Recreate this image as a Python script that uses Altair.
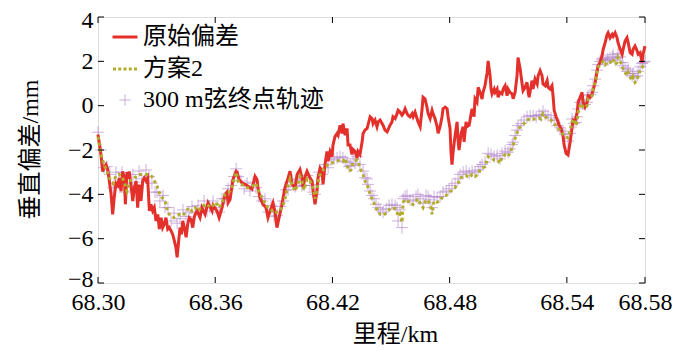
import altair as alt
import pandas as pd

# ---------------- data ----------------
series_names = ["原始偏差", "方案2", "300 m弦终点轨迹"]
x_ticks = [68.30, 68.36, 68.42, 68.48, 68.54, 68.58]
y_ticks = [-8, -6, -4, -2, 0, 2, 4]

# 原始偏差 (red line)
raw_x = [
    68.3000, 68.3015, 68.3024, 68.3032, 68.3041, 68.3050, 68.3058, 68.3067, 68.3075, 68.3083,
    68.3092, 68.3101, 68.3109, 68.3118, 68.3126, 68.3135, 68.3140, 68.3148, 68.3155, 68.3160,
    68.3169, 68.3178, 68.3186, 68.3195, 68.3203, 68.3211, 68.3220, 68.3229, 68.3237, 68.3246,
    68.3254, 68.3263, 68.3271, 68.3280, 68.3288, 68.3297, 68.3306, 68.3314, 68.3323, 68.3331,
    68.3339, 68.3348, 68.3357, 68.3365, 68.3374, 68.3382, 68.3391, 68.3399, 68.3405, 68.3413,
    68.3420, 68.3427, 68.3434, 68.3442, 68.3451, 68.3459, 68.3467, 68.3476, 68.3485, 68.3493,
    68.3507, 68.3522, 68.3532, 68.3548, 68.3563, 68.3584, 68.3589, 68.3609, 68.3620, 68.3635,
    68.3650, 68.3660, 68.3666, 68.3676, 68.3686, 68.3691, 68.3707, 68.3712, 68.3722, 68.3737,
    68.3753, 68.3768, 68.3788, 68.3794, 68.3804, 68.3814, 68.3819, 68.3829, 68.3845, 68.3860,
    68.3870, 68.3881, 68.3896, 68.3906, 68.3916, 68.3927, 68.3942, 68.3957, 68.3973, 68.3983,
    68.3993, 68.4009, 68.4019, 68.4034, 68.4044, 68.4050, 68.4060, 68.4070, 68.4085, 68.4096,
    68.4101, 68.4111, 68.4121, 68.4126, 68.4137, 68.4147, 68.4152, 68.4162, 68.4172, 68.4178,
    68.4188, 68.4198, 68.4203, 68.4213, 68.4224, 68.4229, 68.4239, 68.4249, 68.4254, 68.4265,
    68.4275, 68.4280, 68.4290, 68.4300, 68.4306, 68.4316, 68.4326, 68.4331, 68.4341, 68.4352,
    68.4357, 68.4367, 68.4377, 68.4382, 68.4393, 68.4403, 68.4408, 68.4418, 68.4428, 68.4434,
    68.4444, 68.4459, 68.4469, 68.4480, 68.4495, 68.4505, 68.4510, 68.4521, 68.4531, 68.4536,
    68.4546, 68.4556, 68.4562, 68.4572, 68.4582, 68.4587, 68.4597, 68.4608, 68.4613, 68.4623,
    68.4633, 68.4638, 68.4649, 68.4659, 68.4664, 68.4674, 68.4684, 68.4690, 68.4700, 68.4710,
    68.4715, 68.4725, 68.4736, 68.4741, 68.4751, 68.4761, 68.4766, 68.4777, 68.4787, 68.4792,
    68.4802, 68.4807, 68.4812, 68.4818, 68.4828, 68.4838, 68.4843, 68.4848, 68.4859, 68.4869,
    68.4874, 68.4884, 68.4889, 68.4900, 68.4910, 68.4915, 68.4925, 68.4930, 68.4940, 68.4946,
    68.4956, 68.4966, 68.4971, 68.4981, 68.4992, 68.4997, 68.5007, 68.5012, 68.5017, 68.5028,
    68.5033, 68.5043, 68.5048, 68.5058, 68.5068, 68.5074, 68.5084, 68.5094, 68.5099, 68.5109,
    68.5120, 68.5125, 68.5135, 68.5145, 68.5150, 68.5161, 68.5171, 68.5176, 68.5186, 68.5196,
    68.5202, 68.5207, 68.5217, 68.5222, 68.5227, 68.5237, 68.5248, 68.5253, 68.5263, 68.5273,
    68.5278, 68.5289, 68.5299, 68.5304, 68.5314, 68.5324, 68.5330, 68.5335, 68.5345, 68.5355,
    68.5360, 68.5371, 68.5381, 68.5386, 68.5396, 68.5406, 68.5417, 68.5427, 68.5432, 68.5442,
    68.5453, 68.5458, 68.5468, 68.5478, 68.5483, 68.5493, 68.5504, 68.5509, 68.5519, 68.5529,
    68.5534, 68.5545, 68.5555, 68.5560, 68.5570, 68.5580, 68.5586, 68.5596, 68.5606, 68.5611,
    68.5621, 68.5632, 68.5637, 68.5647, 68.5657, 68.5662, 68.5673, 68.5683, 68.5688, 68.5698,
    68.5708, 68.5714, 68.5724, 68.5734, 68.5739, 68.5749, 68.5760, 68.5765, 68.5775, 68.5785,
    68.5790, 68.5800,
]
raw_y = [
    -1.3, -2.2, -2.97, -2.8, -2.67, -2.9, -3.4, -4.0, -4.9, -4.15,
    -3.5, -3.6, -3.26, -3.86, -2.97, -3.26, -4.45, -3.0, -3.3, -2.97,
    -3.56, -4.3, -3.7, -3.4, -4.6, -3.56, -4.3, -3.4, -3.26, -3.4,
    -3.26, -4.75, -4.45, -4.75, -4.6, -5.2, -4.9, -5.57, -5.05, -5.5,
    -5.35, -5.05, -5.57, -5.5, -5.65, -5.8, -6.1, -6.4, -6.84, -6.1,
    -5.5, -5.8, -5.2, -5.5, -5.94, -5.35, -5.05, -5.13, -5.5, -5.0,
    -4.75, -5.05, -4.6, -4.9, -4.38, -4.75, -4.5, -4.75, -5.05, -4.6,
    -4.0, -3.9, -4.38, -4.23, -3.63, -3.33, -2.96, -3.0, -3.33, -3.48,
    -3.55, -3.63, -3.77, -3.55, -3.19, -3.33, -3.7, -4.15, -4.45, -4.6,
    -5.05, -4.75, -4.38, -4.8, -5.5, -5.05, -4.45, -3.7, -3.26, -2.96,
    -3.55, -3.7, -3.11, -2.88, -3.26, -3.7, -3.2, -2.96, -3.26, -3.41,
    -3.85, -4.45, -3.85, -3.26, -2.81, -2.96, -3.55, -2.66, -2.07, -2.5,
    -2.07, -2.3, -1.77, -1.4, -1.25, -1.33, -0.88, -1.25, -0.81, -1.33,
    -1.03, -1.77, -1.77, -2.2, -1.98, -2.07, -2.37, -2.07, -2.2, -1.63,
    -1.25, -1.1, -1.03, -0.88, -0.5, -0.58, -0.81, -0.65, -0.95, -0.73,
    -0.65, -0.88, -1.1, -1.18, -0.88, -0.73, -0.5, -0.58, -0.36, -0.21,
    -0.29, -0.43, -0.36, -0.14, -0.36, -0.43, -0.5, -0.36, -0.5, -0.29,
    -0.58, -0.73, -0.95, -0.14, 0.38, 0.31, -0.07, -0.36, -0.58, -0.21,
    -0.36, -0.58, -0.95, -1.25, -0.95, -0.5, -0.14, -0.07, -0.14, -0.5,
    -1.03, -2.07, -2.66, -2.07, -1.33, -0.73, -1.55, -2.0, -1.25, -0.95,
    -1.63, -0.73, -0.95, -0.88, -0.36, -0.14, -0.5, 0.31, 0.16, 0.83,
    0.6, 0.3, 0.6, 0.9, 1.5, 2.02, 1.35, 0.75, 0.53, 0.75,
    0.6, 0.75, 0.38, 0.6, 0.53, 0.75, 0.9, 0.45, 0.75, 0.6,
    0.53, 0.31, 0.6, 1.35, 2.17, 1.65, 0.98, 0.68, 0.83, 1.05,
    0.6, 0.38, 0.9, 1.13, 0.75, 1.2, 0.98, 1.35, 1.58, 1.35,
    0.98, 0.9, 1.13, 0.83, 0.75, 0.9, 0.38, -0.21, -0.5, -0.73,
    -0.88, -1.03, -1.4, -1.77, -2.15, -2.22, -1.63, -0.95, -0.65, -0.7,
    -0.29, 0.16, 0.38, 0.6, 0.16, -0.06, 0.16, 0.45, 0.38, 0.53,
    0.68, 1.05, 1.58, 1.8, 1.95, 2.25, 2.54, 2.84, 3.21, 3.29,
    3.06, 3.21, 3.13, 3.29, 3.06, 2.84, 2.54, 2.32, 2.54, 2.91,
    3.06, 2.84, 2.39, 2.32, 2.54, 2.69, 2.47, 2.32, 2.39, 1.95,
    2.32, 2.69,
]

# 方案2 (olive dotted line) and 300 m弦终点轨迹 (purple crosses) share the mileage list
scheme_x = [
    68.3000, 68.3015, 68.3031, 68.3046, 68.3061, 68.3077, 68.3092, 68.3108, 68.3123, 68.3138,
    68.3148, 68.3164, 68.3179, 68.3195, 68.3210, 68.3225, 68.3246, 68.3261, 68.3276, 68.3292,
    68.3302, 68.3317, 68.3333, 68.3343, 68.3358, 68.3374, 68.3389, 68.3405, 68.3420, 68.3435,
    68.3451, 68.3466, 68.3481, 68.3497, 68.3512, 68.3527, 68.3543, 68.3558, 68.3573, 68.3589,
    68.3604, 68.3620, 68.3635, 68.3650, 68.3666, 68.3681, 68.3696, 68.3707, 68.3717, 68.3732,
    68.3748, 68.3763, 68.3778, 68.3794, 68.3809, 68.3824, 68.3840, 68.3855, 68.3870, 68.3886,
    68.3901, 68.3916, 68.3932, 68.3947, 68.3963, 68.3973, 68.3983, 68.3993, 68.4009, 68.4024,
    68.4034, 68.4044, 68.4055, 68.4070, 68.4085, 68.4101, 68.4111, 68.4121, 68.4132, 68.4147,
    68.4162, 68.4178, 68.4193, 68.4208, 68.4224, 68.4239, 68.4254, 68.4265, 68.4275, 68.4285,
    68.4295, 68.4306, 68.4316, 68.4326, 68.4341, 68.4357, 68.4367, 68.4377, 68.4382, 68.4393,
    68.4403, 68.4413, 68.4423, 68.4434, 68.4444, 68.4459, 68.4475, 68.4490, 68.4505, 68.4521,
    68.4531, 68.4536, 68.4546, 68.4556, 68.4562, 68.4572, 68.4582, 68.4597, 68.4613, 68.4628,
    68.4638, 68.4649, 68.4664, 68.4679, 68.4690, 68.4700, 68.4710, 68.4720, 68.4736, 68.4751,
    68.4766, 68.4782, 68.4797, 68.4812, 68.4828, 68.4843, 68.4853, 68.4869, 68.4884, 68.4900,
    68.4915, 68.4930, 68.4946, 68.4956, 68.4966, 68.4981, 68.4997, 68.5012, 68.5028, 68.5043,
    68.5058, 68.5068, 68.5084, 68.5099, 68.5109, 68.5120, 68.5125, 68.5135, 68.5145, 68.5150,
    68.5166, 68.5181, 68.5196, 68.5212, 68.5227, 68.5243, 68.5258, 68.5268, 68.5278, 68.5289,
    68.5304, 68.5319, 68.5335, 68.5350, 68.5365, 68.5381, 68.5391, 68.5406, 68.5417, 68.5427,
    68.5437, 68.5447, 68.5453, 68.5458, 68.5468, 68.5478, 68.5483, 68.5493, 68.5504, 68.5509,
    68.5519, 68.5529, 68.5534, 68.5545, 68.5555, 68.5560, 68.5570, 68.5580, 68.5586, 68.5596,
    68.5606, 68.5611, 68.5621, 68.5632, 68.5637, 68.5647, 68.5657, 68.5662, 68.5673, 68.5683,
    68.5688, 68.5698, 68.5708, 68.5714, 68.5724, 68.5734, 68.5739, 68.5749, 68.5760, 68.5765,
    68.5775, 68.5785, 68.5790, 68.5800,
]
scheme_y = [
    -1.4, -2.2, -2.67, -2.97, -3.3, -3.5, -3.15, -3.1, -3.2, -3.55,
    -3.86, -3.4, -3.3, -3.2, -3.1, -3.1, -3.1, -3.1, -3.2, -3.45,
    -3.63, -4.0, -4.2, -4.3, -4.84, -5.0, -5.05, -4.95, -4.9, -4.95,
    -4.75, -4.6, -4.75, -4.6, -4.75, -4.6, -4.5, -4.6, -4.45, -4.5,
    -4.35, -4.6, -4.4, -4.0, -3.95, -3.8, -3.35, -3.0, -3.4, -3.55,
    -3.6, -3.7, -3.7, -3.6, -3.5, -3.9, -4.16, -4.4, -4.6, -4.7,
    -4.84, -4.8, -4.75, -4.5, -4.0, -3.6, -3.3, -3.55, -3.85, -3.5,
    -3.2, -3.4, -3.8, -3.3, -3.4, -3.7, -4.2, -3.8, -3.2, -2.96,
    -2.8, -2.66, -2.6, -2.55, -2.5, -2.45, -2.5, -2.37, -2.7, -2.95,
    -2.9, -2.55, -2.5, -2.45, -2.81, -3.11, -3.41, -3.5, -3.7, -4.0,
    -4.2, -4.4, -4.6, -4.75, -4.9, -4.95, -4.85, -4.7, -4.6, -4.65,
    -4.8, -5.0, -4.9, -5.27, -4.35, -4.25, -4.25, -4.45, -4.45, -4.3,
    -4.2, -4.4, -4.6, -4.25, -4.3, -4.45, -4.9, -4.3, -4.35, -4.3,
    -4.08, -4.05, -3.95, -3.8, -3.7, -3.5, -3.26, -3.2, -3.15, -3.25,
    -3.1, -3.19, -3.1, -2.9, -2.81, -2.75, -2.3, -2.35, -2.45, -2.45,
    -2.6, -2.3, -2.22, -2.3, -2.1, -1.92, -1.8, -1.48, -1.25, -1.03,
    -0.95, -0.8, -0.65, -0.58, -0.6, -0.6, -0.55, -0.6, -0.36, -0.5,
    -0.58, -0.65, -0.77, -1.0, -1.1, -1.3, -1.4, -1.45, -1.1, -0.73,
    -0.6, -0.9, -0.7, -0.29, 0.0, 0.1, -0.06, -0.1, 0.0, 0.3,
    0.35, 0.45, 0.75, 1.05, 1.5, 1.75, 1.85, 1.95, 2.0, 1.85,
    1.95, 1.9, 1.95, 2.0, 2.1, 1.85, 1.95, 2.17, 2.0, 1.8,
    1.65, 1.5, 1.35, 1.5, 1.28, 1.13, 1.28, 1.05, 1.13, 1.35,
    1.57, 1.72, 1.8, 1.87,
]
chord_y = [
    -1.2, -2.0, -2.8, -2.75, -3.1, -3.7, -3.0, -3.35, -3.0, -3.9,
    -3.5, -3.6, -3.1, -3.45, -2.95, -3.3, -2.9, -3.2, -3.5, -3.9,
    -3.9, -4.3, -4.05, -4.6, -4.6, -5.2, -4.85, -5.3, -5.1, -4.7,
    -5.0, -4.8, -4.55, -4.85, -4.5, -4.8, -4.3, -4.75, -4.6, -4.3,
    -4.6, -4.8, -4.2, -4.2, -3.75, -3.6, -3.2, -2.85, -3.2, -3.4,
    -3.75, -3.5, -3.85, -3.45, -3.7, -4.1, -4.3, -4.2, -4.8, -4.5,
    -5.0, -4.95, -4.55, -4.3, -3.8, -3.8, -3.45, -3.35, -3.65, -3.3,
    -3.4, -3.6, -3.6, -3.15, -3.6, -3.9, -4.0, -3.55, -3.0, -3.1,
    -2.65, -2.8, -2.45, -2.4, -2.35, -2.3, -2.35, -2.5, -2.55, -2.75,
    -2.7, -2.4, -2.6, -2.3, -2.65, -2.95, -3.25, -3.3, -3.55, -3.85,
    -4.05, -4.2, -4.45, -4.6, -4.7, -4.8, -4.65, -4.5, -4.45, -4.5,
    -4.6, -5.2, -4.7, -5.5, -4.2, -4.1, -4.05, -4.25, -4.3, -4.1,
    -4.0, -4.2, -4.4, -4.05, -4.1, -4.25, -4.6, -4.1, -4.15, -4.1,
    -3.9, -3.85, -3.75, -3.6, -3.5, -3.3, -3.1, -3.0, -2.95, -3.05,
    -2.95, -3.0, -2.9, -2.75, -2.65, -2.55, -2.15, -2.2, -2.3, -2.25,
    -2.4, -2.15, -2.05, -2.1, -1.95, -1.75, -1.65, -1.35, -1.1, -0.9,
    -0.8, -0.65, -0.5, -0.45, -0.45, -0.5, -0.4, -0.45, -0.25, -0.4,
    -0.45, -0.55, -0.65, -0.9, -1.0, -1.15, -1.3, -1.6, -1.25, -0.6,
    -0.8, -0.75, -0.5, -0.15, 0.15, 0.25, 0.1, 0.05, 0.15, 0.45,
    0.5, 0.6, 0.9, 1.2, 1.6, 1.85, 2.0, 2.1, 2.15, 2.05,
    2.1, 2.05, 2.15, 2.2, 2.3, 2.05, 2.15, 2.35, 2.2, 1.95,
    1.8, 1.7, 1.55, 1.65, 1.45, 1.35, 1.45, 1.3, 1.35, 1.55,
    1.75, 1.9, 1.95, 2.0,
]

# ---------------- styling ----------------
W, H = 547, 266
FONT = "Liberation Serif, Noto Sans CJK SC"
RED = "#e3302b"
OLIVE = "#b3ab2a"
PURPLE = "rgba(172, 125, 198, 0.6)"

PATH_LINE = "M-1,0L1,0"
PATH_DOTS = "M-0.96,0L-0.72,0M-0.54,0L-0.3,0M-0.12,0L0.12,0M0.3,0L0.54,0M0.72,0L0.96,0"
PATH_PLUS = "M-0.45,0L0.45,0M0,-0.45L0,0.45"

raw_df = pd.DataFrame({"x": raw_x, "y": raw_y})
sch_df = pd.DataFrame({"x": scheme_x, "y": scheme_y})
chord_df = pd.DataFrame({"x": scheme_x, "y": chord_y, "series": series_names[2]})
xt_df = pd.DataFrame({"t": x_ticks})
yt_df = pd.DataFrame({"t": y_ticks})

xs = alt.Scale(domain=[68.30, 68.58], nice=False, zero=False)
ys = alt.Scale(domain=[-8, 4], nice=False, zero=False)

x_axis = alt.Axis(
    values=x_ticks, format=".2f", title="里程/km", domain=False, ticks=False, grid=False,
    labelFont=FONT, labelFontSize=24, labelColor="black", labelPadding=7,
    labelFlush=False, labelOverlap=False,
    titleFont=FONT, titleFontSize=24, titleFontWeight="normal", titleColor="black",
    titleX=297, titleY=51, titleBaseline="middle", titleAlign="center",
)
y_axis = alt.Axis(
    values=y_ticks, format="d", title="垂直偏差/mm", domain=False, ticks=False, grid=False,
    labelFont=FONT, labelFontSize=24, labelColor="black", labelPadding=5,
    labelFlush=False, labelOverlap=False,
    labelOffset={"expr": "datum.value == 4 ? 3 : (datum.value == -8 ? -4 : 0)"},
    titleFont=FONT, titleFontSize=24, titleFontWeight="normal", titleColor="black",
    titleX=-68, titleY=132, titleBaseline="middle", titleAlign="center", titleAngle=270,
)
X = alt.X("x:Q", scale=xs, axis=x_axis)
Y = alt.Y("y:Q", scale=ys, axis=y_axis)

legend = alt.Legend(
    title=None, orient="none", legendX=13, legendY=6, padding=0,
    labelFont=FONT, labelFontSize=24, labelColor="black", labelOffset=4, labelLimit=0,
    symbolSize=625, rowPadding=6, direction="vertical",
)

chord = alt.Chart(chord_df).mark_point(filled=False, size=700, opacity=1).encode(
    x=X, y=Y,
    color=alt.Color("series:N", scale=alt.Scale(domain=series_names, range=[RED, OLIVE, PURPLE]), legend=legend),
    shape=alt.Shape("series:N", scale=alt.Scale(domain=series_names, range=[PATH_LINE, PATH_DOTS, PATH_PLUS]), legend=legend),
    strokeWidth=alt.StrokeWidth("series:N", scale=alt.Scale(type="ordinal", domain=series_names, range=[3, 3, 1]), legend=legend),
)

raw = alt.Chart(raw_df).mark_line(color=RED, strokeWidth=3).encode(x=X, y=Y)
sch = alt.Chart(sch_df).mark_line(color=OLIVE, strokeWidth=3, strokeDash=[3, 3]).encode(x=X, y=Y)

XT = alt.X("t:Q", scale=xs, axis=x_axis)
YT = alt.Y("t:Q", scale=ys, axis=y_axis)
tick_bottom = alt.Chart(xt_df).mark_rule(color="black", strokeWidth=1).encode(
    x=XT, y=alt.value(H), y2=alt.value(H - 6))
tick_top = alt.Chart(xt_df).mark_rule(color="black", strokeWidth=1).encode(
    x=XT, y=alt.value(0), y2=alt.value(6))
tick_left = alt.Chart(yt_df).mark_rule(color="black", strokeWidth=1).encode(
    y=YT, x=alt.value(0), x2=alt.value(6))
tick_right = alt.Chart(yt_df).mark_rule(color="black", strokeWidth=1).encode(
    y=YT, x=alt.value(W), x2=alt.value(W - 6))

chart = alt.layer(chord, raw, sch, tick_bottom, tick_top, tick_left, tick_right).properties(
    width=W, height=H,
    autosize=alt.AutoSizeParams(type="none"),
    padding={"left": 90, "top": 9, "right": 45, "bottom": 70},
).configure_view(stroke="black", strokeWidth=2).configure(background="white")

chart.save("out.html", embed_options={"renderer": "svg", "actions": False})
